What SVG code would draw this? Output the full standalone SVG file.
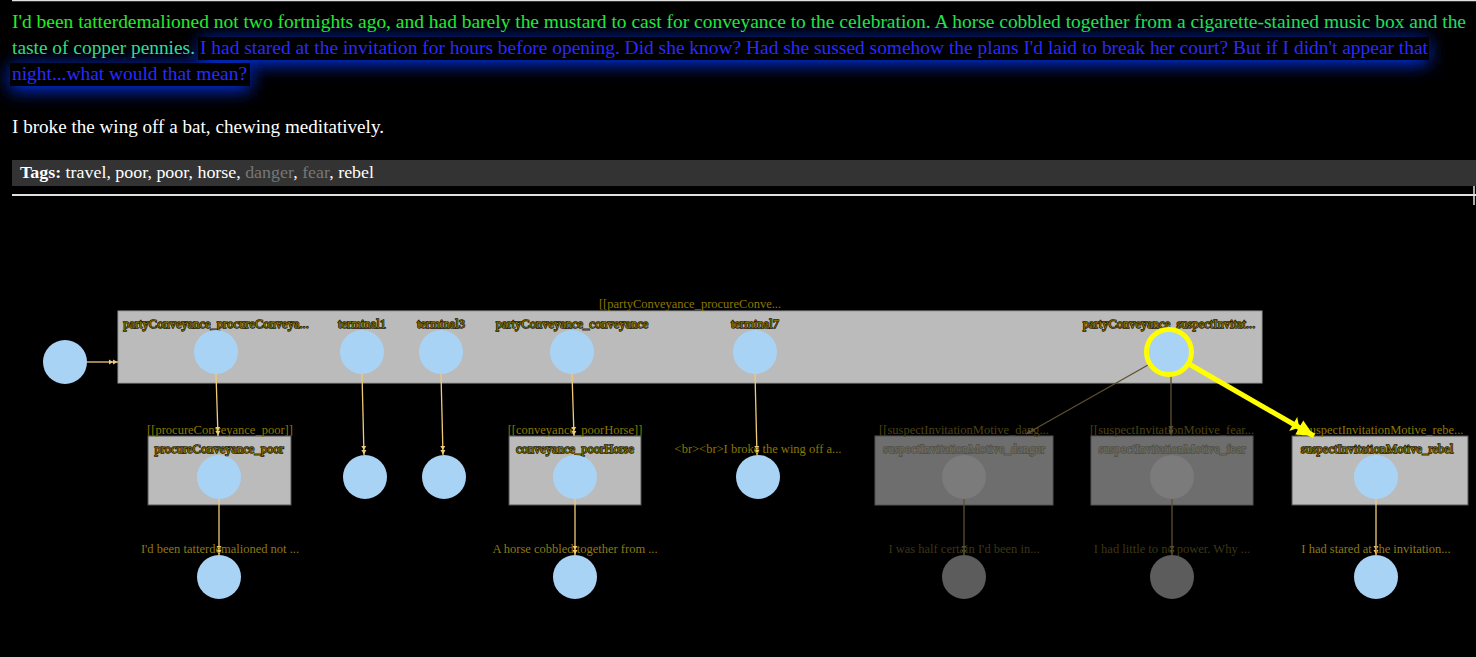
<svg xmlns="http://www.w3.org/2000/svg" width="1476" height="657" viewBox="0 0 1476 657">
<defs>
<style>
.main{font-family:"Liberation Serif","Times New Roman",serif;font-size:18px}
.lbl{font-family:"Liberation Serif","Times New Roman",serif;font-size:12.5px;text-anchor:middle}
.nl{fill:#8a7400;stroke:#1a1600;stroke-width:1.3px;paint-order:stroke}
.nld{fill:#6e6e62;stroke:#4e4e46;stroke-width:1.3px;paint-order:stroke}
.bl{fill:#8c7800}
.bld{fill:#4c4312}
.tl{fill:#8c7a14}
.tld{fill:#3d3712}
.box{fill:#bbbbbb;stroke:#555;stroke-width:1}
.boxd{fill:#6e6e6e;stroke:#555;stroke-width:1}
.n{fill:#a9d3f5}
.nd{fill:#7b7b7b}
.nd2{fill:#5c5c5c}
.e{stroke:#eecb78;stroke-width:1.3;fill:none;marker-end:url(#dbl)}
.ed{stroke:#5e5030;stroke-width:1.3;fill:none;marker-end:url(#dbld)}
</style>
<linearGradient id="g1" gradientUnits="userSpaceOnUse" x1="0" y1="0" x2="1476" y2="0">
<stop offset="0" stop-color="#22f022"/><stop offset="1" stop-color="#22dd66"/>
</linearGradient>
<linearGradient id="g2" gradientUnits="userSpaceOnUse" x1="0" y1="0" x2="200" y2="0">
<stop offset="0" stop-color="#30e070"/><stop offset="1" stop-color="#33ddaa"/>
</linearGradient>
<filter id="glow" x="-10%" y="-150%" width="120%" height="400%">
<feGaussianBlur stdDeviation="9"/>
</filter>
<marker id="dbl" markerUnits="userSpaceOnUse" viewBox="0 0 10 8" refX="10" refY="4" markerWidth="10" markerHeight="8" orient="auto">
<path d="M1,1.5 L5,4 L1,6.5 Z M5,1.5 L9.5,4 L5,6.5 Z" fill="#eecb78"/>
</marker>
<marker id="dbld" markerUnits="userSpaceOnUse" viewBox="0 0 10 8" refX="10" refY="4" markerWidth="10" markerHeight="8" orient="auto">
<path d="M1,1.5 L5,4 L1,6.5 Z M5,1.5 L9.5,4 L5,6.5 Z" fill="#5e5030"/>
</marker>
<marker id="ysel" markerUnits="userSpaceOnUse" viewBox="0 0 26 20" refX="26" refY="10" markerWidth="26" markerHeight="20" orient="auto">
<path d="M2,2 L9,10 L2,18 Z M9,2 L26,10 L9,18 Z" fill="#ffff00"/>
</marker>
</defs>
<rect x="0" y="0" width="1476" height="657" fill="#000"/>
<line x1="12" y1="0.5" x2="1476" y2="0.5" stroke="#e0e0e0" stroke-width="1.5"/>

<g id="story">
<rect x="200" y="40" width="1228" height="24" fill="#0033ee" filter="url(#glow)"/>
<rect x="10" y="66" width="240" height="24" fill="#0033ee" filter="url(#glow)"/>
<rect x="198" y="37" width="1231" height="23" fill="#000"/>
<rect x="10" y="63" width="240" height="23" fill="#000"/>
<text class="main" x="12" y="28" fill="url(#g1)" textLength="1454" lengthAdjust="spacingAndGlyphs">I'd been tatterdemalioned not two fortnights ago, and had barely the mustard to cast for conveyance to the celebration. A horse cobbled together from a cigarette-stained music box and the</text>
<text class="main" x="12" y="54" fill="url(#g2)" textLength="183" lengthAdjust="spacingAndGlyphs">taste of copper pennies.</text>
<text class="main" x="200" y="54" fill="#2a2aff" textLength="1228" lengthAdjust="spacingAndGlyphs">I had stared at the invitation for hours before opening. Did she know? Had she sussed somehow the plans I'd laid to break her court? But if I didn't appear that</text>
<text class="main" x="12" y="80" fill="#2a2aff" textLength="235" lengthAdjust="spacingAndGlyphs">night...what would that mean?</text>
<text class="main" x="12" y="133" fill="#ffffff" textLength="372" lengthAdjust="spacingAndGlyphs">I broke the wing off a bat, chewing meditatively.</text>
</g>

<g id="tags">
<rect x="12" y="160" width="1464" height="26" fill="#333333"/>
<text x="20" y="178" style="font-family:'Liberation Serif','Times New Roman',serif;font-size:17px" fill="#ffffff" textLength="354" lengthAdjust="spacingAndGlyphs"><tspan font-weight="bold">Tags:</tspan> travel, poor, poor, horse, <tspan fill="#777777">danger</tspan>, <tspan fill="#777777">fear</tspan>, rebel</text>
<line x1="12" y1="195" x2="1476" y2="195" stroke="#e0e0e0" stroke-width="2"/>
<line x1="1474" y1="186" x2="1474" y2="205" stroke="#e0e0e0" stroke-width="1.5"/>
</g>

<g id="cluster_partyConveyance">
<rect x="118" y="311" width="1144" height="72" fill="#bbbbbb" stroke="#999" stroke-width="1"/>
<text class="lbl bl" x="690" y="308">[[partyConveyance_procureConve...</text>
</g>
<g id="box_procureConveyance_poor">
<rect class="box" x="148" y="436" width="143" height="69"/>
<text class="lbl bl" x="220" y="434">[[procureConveyance_poor]]</text>
<text class="lbl nl" x="219" y="453">procureConveyance_poor</text>
</g>
<g id="box_conveyance_poorHorse">
<rect class="box" x="509" y="436" width="132" height="69"/>
<text class="lbl bl" x="575" y="434">[[conveyance_poorHorse]]</text>
<text class="lbl nl" x="575" y="453">conveyance_poorHorse</text>
</g>
<g id="box_suspectInvitationMotive_danger">
<rect class="boxd" x="875" y="436" width="178" height="69"/>
<text class="lbl bld" x="964" y="434">[[suspectInvitationMotive_dang...</text>
<text class="lbl nld" x="964" y="453">suspectInvitationMotive_danger</text>
</g>
<g id="box_suspectInvitationMotive_fear">
<rect class="boxd" x="1091" y="436" width="162" height="69"/>
<text class="lbl bld" x="1172" y="434">[[suspectInvitationMotive_fear...</text>
<text class="lbl nld" x="1172" y="453">suspectInvitationMotive_fear</text>
</g>
<g id="box_suspectInvitationMotive_rebel">
<rect class="box" x="1292" y="436" width="176" height="69"/>
<text class="lbl bl" x="1380" y="434">[[suspectInvitationMotive_rebe...</text>
<text class="lbl nl" x="1377" y="453">suspectInvitationMotive_rebel</text>
</g>

<g id="connectors">
<line class="e" x1="87" y1="362" x2="118" y2="362"/>
<line class="e" x1="216" y1="374" x2="218" y2="436"/>
<line class="e" x1="362" y1="374" x2="364" y2="455"/>
<line class="e" x1="441" y1="374" x2="443" y2="455"/>
<line class="e" x1="572" y1="374" x2="574" y2="436"/>
<line class="e" x1="755" y1="374" x2="757" y2="455"/>
<line class="e" x1="219" y1="499" x2="219" y2="555"/>
<line class="e" x1="575" y1="499" x2="575" y2="555"/>
<line class="e" x1="1376" y1="499" x2="1376" y2="555"/>
<line class="ed" x1="964" y1="499" x2="964" y2="555"/>
<line class="ed" x1="1172" y1="499" x2="1172" y2="555"/>
<line class="ed" x1="1148" y1="365" x2="1026" y2="434"/>
<line class="ed" x1="1171" y1="376" x2="1171" y2="435"/>
<line x1="1189" y1="364" x2="1314" y2="436" stroke="#ffff00" stroke-width="5" marker-end="url(#ysel)"/>
</g>

<g id="node_start"><circle class="n" cx="65" cy="362" r="22"/></g>
<g id="node_partyConveyance_procureConveyance">
<text class="lbl nl" x="216" y="328">partyConveyance_procureConveya...</text>
<circle class="n" cx="216" cy="352" r="22"/>
</g>
<g id="node_terminal1">
<text class="lbl nl" x="362" y="328">terminal1</text>
<circle class="n" cx="362" cy="352" r="22"/>
</g>
<g id="node_terminal3">
<text class="lbl nl" x="441" y="328">terminal3</text>
<circle class="n" cx="441" cy="352" r="22"/>
</g>
<g id="node_partyConveyance_conveyance">
<text class="lbl nl" x="572" y="328">partyConveyance_conveyance</text>
<circle class="n" cx="572" cy="352" r="22"/>
</g>
<g id="node_terminal7">
<text class="lbl nl" x="755" y="328">terminal7</text>
<circle class="n" cx="755" cy="352" r="22"/>
</g>
<g id="node_partyConveyance_suspectInvitation">
<text class="lbl nl" x="1169" y="328">partyConveyance_suspectInvitat...</text>
<circle class="n" cx="1169" cy="352" r="22.5" stroke="#ffff00" stroke-width="5"/>
</g>
<g id="node_procureConveyance_poor"><circle class="n" cx="219" cy="477" r="22"/></g>
<g id="node_terminal1_end"><circle class="n" cx="365" cy="477" r="22"/></g>
<g id="node_terminal3_end"><circle class="n" cx="444" cy="477" r="22"/></g>
<g id="node_conveyance_poorHorse"><circle class="n" cx="575" cy="477" r="22"/></g>
<g id="node_terminal7_end">
<text class="lbl bl" x="758" y="453">&lt;br&gt;&lt;br&gt;I broke the wing off a...</text>
<circle class="n" cx="758" cy="477" r="22"/>
</g>
<g id="node_suspectInvitationMotive_danger"><circle class="nd" cx="964" cy="477" r="22"/></g>
<g id="node_suspectInvitationMotive_fear"><circle class="nd" cx="1172" cy="477" r="22"/></g>
<g id="node_suspectInvitationMotive_rebel"><circle class="n" cx="1376" cy="477" r="22"/></g>
<g id="node_poor_text">
<text class="lbl tl" x="220" y="553">I'd been tatterdemalioned not ...</text>
<circle class="n" cx="219" cy="577" r="22"/>
</g>
<g id="node_horse_text">
<text class="lbl tl" x="575" y="553">A horse cobbled together from ...</text>
<circle class="n" cx="575" cy="577" r="22"/>
</g>
<g id="node_danger_text">
<text class="lbl tld" x="964" y="553">I was half certain I'd been in...</text>
<circle class="nd2" cx="964" cy="577" r="22"/>
</g>
<g id="node_fear_text">
<text class="lbl tld" x="1172" y="553">I had little to no power. Why ...</text>
<circle class="nd2" cx="1172" cy="577" r="22"/>
</g>
<g id="node_rebel_text">
<text class="lbl tl" x="1376" y="553">I had stared at the invitation...</text>
<circle class="n" cx="1376" cy="577" r="22"/>
</g>
</svg>
